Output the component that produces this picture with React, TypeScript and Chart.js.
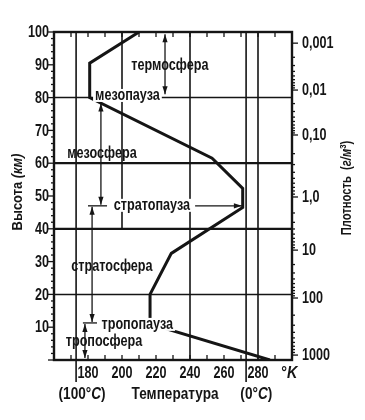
import React, { useEffect, useRef } from "react";
import { Chart, registerables } from "chart.js";

Chart.register(...registerables);

const FONT = "'Liberation Sans', Arial, sans-serif";
const INK = "#151515";

// Temperature profile: temperature (K) vs altitude (km)
const profileTemperatureK = [287, 216.5, 216.5, 229, 271, 271, 253, 181, 181, 210];
const profileAltitudeKm = [0, 11, 20, 32.5, 46.5, 52.3, 61.5, 80, 90.5, 100];

// Axes
const temperatureTicksK = [180, 200, 220, 240, 260, 280];
const altitudeTicksKm = [10, 20, 30, 40, 50, 60, 70, 80, 90, 100];
const densityLabels = ["0,001", "0,01", "0,10", "1,0", "10", "100", "1000"];
const densityAltitudesKm = [96.6, 82.3, 68.6, 49.7, 33.5, 18.9, 1.5];

// Reference lines
const horizontalGridKm = [20, 40, 60, 80];
const verticalGridK = [173, 240, 273, 280];
const partialGridK = [200]; // drawn from 40 km to the top
const celsiusMarksK = [173, 273];

// Layer annotations (text at temperature/altitude)
const layerTexts = [
  { t: 228.2, km: 89.9, text: "термосфера", bg: false },
  { t: 203.2, km: 80.5, text: "мезопауза", bg: true },
  { t: 188.2, km: 62.8, text: "мезосфера", bg: false },
  { t: 217.6, km: 47, text: "стратопауза", bg: true },
  { t: 194.1, km: 28.4, text: "стратосфера", bg: false },
  { t: 209.0, km: 10.7, text: "тропопауза", bg: true },
  { t: 189.4, km: 5.5, text: "тропосфера", bg: false },
];
// Vertical double arrows: temperature, from km, to km
const layerArrows = [
  { t: 225.3, from: 99.3, to: 81 },
  { t: 187.6, from: 78.2, to: 47.3 },
  { t: 182.4, from: 46.7, to: 11.6 },
  { t: 178.2, from: 11, to: 0.6 },
];
// Short horizontal markers at pauses: from K, to K, km
const pauseMarks = [
  { from: 180, to: 191.2, km: 47 },
  { from: 177, to: 185.3, km: 11.3 },
];
// Arrow pointing to stratopause
const stratopauseArrow = { from: 243, to: 270.5, km: 47 };

const bottomTexts = [
  { t: 176.5, parts: [["(100°", false], ["C", true], [")", false]] },
  { t: 231.2, parts: [["Температура", false]] },
  { t: 279, parts: [["(0°", false], ["C", true], [")", false]] },
];
const unitText = { t: 298.5, parts: [["°", false], ["K", true]] };

function font(size: number, italic = false, bold = false) {
  return `${italic ? "italic " : ""}${bold ? "bold " : ""}${size}px ${FONT}`;
}

// draws text pieces centred on (cx, cy) with horizontal condensing sx
function drawParts(ctx: CanvasRenderingContext2D, parts: any[], cx: number, cy: number, size: number, sx = 1, bold = false) {
  ctx.save();
  ctx.translate(cx, cy);
  ctx.scale(sx, 1);
  let total = 0;
  const widths = parts.map((p) => {
    ctx.font = font(p[2] ? size * 0.7 : size, p[1], bold);
    const w = ctx.measureText(p[0]).width;
    total += w;
    return w;
  });
  let x = -total / 2;
  parts.forEach((p, i) => {
    ctx.font = font(p[2] ? size * 0.7 : size, p[1], bold);
    ctx.textAlign = "left";
    ctx.textBaseline = "middle";
    ctx.fillText(p[0], x, p[2] ? -size * 0.3 : 0);
    x += widths[i];
  });
  ctx.restore();
  return total * sx;
}

function drawLabel(ctx: CanvasRenderingContext2D, text: string, x: number, y: number, align: CanvasTextAlign, size: number, sx: number) {
  ctx.save();
  ctx.translate(x, y);
  ctx.scale(sx, 1);
  ctx.font = font(size, false, true);
  ctx.textAlign = align;
  ctx.textBaseline = "middle";
  ctx.fillText(text, 0, 0);
  ctx.restore();
}

function seg(ctx: CanvasRenderingContext2D, x1: number, y1: number, x2: number, y2: number) {
  ctx.beginPath();
  ctx.moveTo(x1, y1);
  ctx.lineTo(x2, y2);
  ctx.stroke();
}

function head(ctx: CanvasRenderingContext2D, x: number, y: number, dx: number, dy: number) {
  const len = 8, half = 2.6;
  const bx = x - dx * len, by = y - dy * len;
  ctx.beginPath();
  ctx.moveTo(x, y);
  ctx.lineTo(bx - dy * half, by + dx * half);
  ctx.lineTo(bx + dy * half, by - dx * half);
  ctx.closePath();
  ctx.fill();
}

const TICK_SIZE = 17;
const TICK_SX = 0.74;

const decor = {
  id: "decor",
  beforeDatasetsDraw(chart: any) {
    const { ctx, chartArea, scales } = chart;
    const { left, right, top, bottom } = chartArea;
    const x = scales.x, y = scales.y;
    ctx.save();
    ctx.strokeStyle = INK;
    horizontalGridKm.forEach((km) => {
      ctx.lineWidth = km === 40 || km === 60 ? 2.2 : 1.5;
      const py = y.getPixelForValue(km);
      seg(ctx, left, py, right, py);
    });
    ctx.lineWidth = 1.6;
    verticalGridK.forEach((t) => {
      const px = x.getPixelForValue(t);
      const ext = celsiusMarksK.includes(t) ? 22 : 0;
      seg(ctx, px, top, px, bottom + ext);
    });
    partialGridK.forEach((t) => {
      const px = x.getPixelForValue(t);
      seg(ctx, px, top, px, y.getPixelForValue(40));
    });
    ctx.restore();
  },
  afterDatasetsDraw(chart: any) {
    const { ctx, chartArea, scales } = chart;
    const { left, right, top, bottom } = chartArea;
    const x = scales.x, y = scales.y, y2 = scales.y2;
    ctx.save();
    ctx.strokeStyle = INK;
    ctx.fillStyle = INK;

    // tick marks: left
    ctx.lineWidth = 1.3;
    for (let km = 0; km <= 100; km += 2) {
      const py = y.getPixelForValue(km);
      const len = km % 10 === 0 ? 6 : 3;
      seg(ctx, left - len, py, left, py);
    }
    // top & bottom minor ticks
    for (let t = 170; t <= 290; t += 10) {
      const px = x.getPixelForValue(t);
      seg(ctx, px, top, px, top + 5);
      seg(ctx, px, bottom, px, bottom - 5);
    }
    // right ticks: decades + log subdivisions
    densityAltitudesKm.forEach((km, i) => {
      const py = y2.getPixelForValue(km);
      seg(ctx, right, py, right + 6, py);
      if (i < densityAltitudesKm.length - 1) {
        const next = densityAltitudesKm[i + 1];
        for (let m = 2; m <= 9; m++) {
          const a = km + (next - km) * Math.log10(m);
          const pa = y2.getPixelForValue(a);
          seg(ctx, right, pa, right + 3, pa);
        }
      }
    });

    // tick labels from the library's scale ticks
    ctx.fillStyle = INK;
    y.ticks.forEach((tk: any) => {
      drawLabel(ctx, String(tk.value), left - 5, y.getPixelForValue(tk.value) + 0.5, "right", TICK_SIZE, TICK_SX);
    });
    x.ticks.forEach((tk: any) => {
      drawLabel(ctx, String(tk.value), x.getPixelForValue(tk.value), bottom + 13, "center", TICK_SIZE, TICK_SX);
    });
    y2.ticks.forEach((tk: any, i: number) => {
      drawLabel(ctx, densityLabels[i], right + 10, y2.getPixelForValue(tk.value) + 0.5, "left", TICK_SIZE, TICK_SX);
    });

    // frame
    ctx.lineWidth = 2.4;
    ctx.strokeRect(left, top, right - left, bottom - top);

    // pause markers and arrows
    ctx.lineWidth = 1.3;
    pauseMarks.forEach((m) => {
      const py = y.getPixelForValue(m.km);
      seg(ctx, x.getPixelForValue(m.from), py, x.getPixelForValue(m.to), py);
    });
    layerArrows.forEach((a) => {
      const px = x.getPixelForValue(a.t);
      const p1 = y.getPixelForValue(a.from), p2 = y.getPixelForValue(a.to);
      seg(ctx, px, p1, px, p2);
      const dir = p2 > p1 ? 1 : -1;
      head(ctx, px, p1, 0, -dir);
      head(ctx, px, p2, 0, dir);
    });
    {
      const py = y.getPixelForValue(stratopauseArrow.km);
      const x1 = x.getPixelForValue(stratopauseArrow.from), x2 = x.getPixelForValue(stratopauseArrow.to);
      seg(ctx, x1, py, x2, py);
      head(ctx, x2, py, 1, 0);
    }

    // layer texts
    layerTexts.forEach((l) => {
      const px = x.getPixelForValue(l.t), py = y.getPixelForValue(l.km);
      ctx.save();
      ctx.font = font(16, false, true);
      const w = ctx.measureText(l.text).width * 0.79;
      ctx.restore();
      if (l.bg) {
        ctx.fillStyle = "#fff";
        ctx.fillRect(px - w / 2 - 2, py - 7, w + 4, 13);
      }
      ctx.fillStyle = INK;
      drawParts(ctx, [[l.text, false]], px, py, 16, 0.79, true);
    });

    // bottom texts
    bottomTexts.forEach((b) => {
      drawParts(ctx, b.parts, x.getPixelForValue(b.t), bottom + 35, 16, 0.85, true);
    });
    drawParts(ctx, unitText.parts, x.getPixelForValue(unitText.t), bottom + 13, 17, 0.85, true);

    // axis titles
    ctx.save();
    ctx.translate(18, 192);
    ctx.rotate(-Math.PI / 2);
    drawParts(ctx, [["Высота ", false], ["(км)", true]], 0, 0, 15, 0.86, true);
    ctx.restore();

    ctx.save();
    ctx.translate(347, 188);
    ctx.rotate(-Math.PI / 2);
    drawParts(ctx, [["Плотность  (", false], ["г/м", true], ["3", false, true], [")", false]], 0, 0, 14, 0.8, true);
    ctx.restore();

    ctx.restore();
  },
};

export default function App() {
  const ref = useRef<HTMLCanvasElement | null>(null);
  useEffect(() => {
    document.body.style.margin = "0";
    document.body.style.background = "#fff";
    const canvas = ref.current!;
    const chart = new Chart(canvas, {
      type: "scatter",
      data: {
        datasets: [
          {
            label: "Температура",
            data: profileTemperatureK.map((t, i) => ({ x: t, y: profileAltitudeKm[i] })),
            showLine: true,
            borderColor: INK,
            borderWidth: 3,
            pointRadius: 0,
            tension: 0,
            fill: false,
          } as any,
        ],
      },
      options: {
        responsive: false,
        animation: false,
        devicePixelRatio: 1,
        layout: { padding: { top: 32, left: 0, right: 0, bottom: 0 } },
        plugins: { legend: { display: false }, tooltip: { enabled: false } },
        scales: {
          x: {
            type: "linear",
            min: 160,
            max: 300,
            position: "bottom",
            afterBuildTicks: (s: any) => {
              s.ticks = temperatureTicksK.map((v) => ({ value: v }));
            },
            ticks: { display: false },
            grid: { display: false },
            border: { display: false },
            afterFit: (s: any) => {
              s.height = 60;
            },
          },
          y: {
            type: "linear",
            min: 0,
            max: 100,
            position: "left",
            afterBuildTicks: (s: any) => {
              s.ticks = altitudeTicksKm.map((v) => ({ value: v }));
            },
            ticks: { display: false },
            grid: { display: false },
            border: { display: false },
            afterFit: (s: any) => {
              s.width = 54;
            },
          },
          y2: {
            type: "linear",
            min: 0,
            max: 100,
            position: "right",
            afterBuildTicks: (s: any) => {
              s.ticks = densityAltitudesKm.map((v) => ({ value: v }));
            },
            ticks: { display: false },
            grid: { display: false },
            border: { display: false },
            afterFit: (s: any) => {
              s.width = 73;
            },
          },
        },
      },
      plugins: [decor],
    } as any);
    return () => chart.destroy();
  }, []);
  return (
    <div style={{ position: "absolute", left: 0, top: 0, width: 365, height: 420, background: "#fff" }}>
      <canvas ref={ref} width={365} height={420} style={{ width: 365, height: 420, display: "block" }} />
    </div>
  );
}
